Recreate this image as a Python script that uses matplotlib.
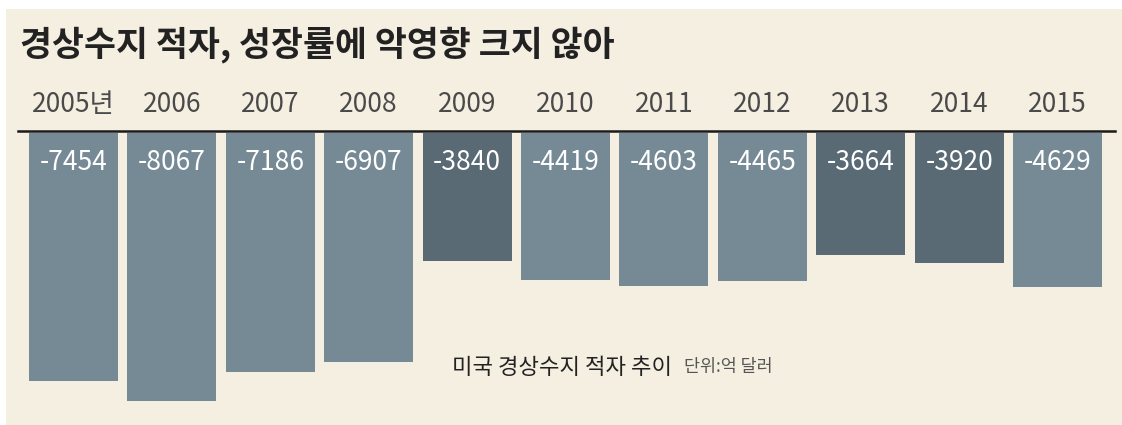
import matplotlib
matplotlib.use("Agg")
import matplotlib.pyplot as plt
from matplotlib.patches import Rectangle
from matplotlib.lines import Line2D

plt.rcParams['font.family'] = ['Noto Sans CJK KR', 'DejaVu Sans']

years = ["2005년", "2006", "2007", "2008", "2009", "2010", "2011", "2012", "2013", "2014", "2015"]
values = [-7454, -8067, -7186, -6907, -3840, -4419, -4603, -4465, -3664, -3920, -4629]
dark_years = ["2009", "2013", "2014"]

title = "경상수지 적자, 성장률에 악영향 크지 않아"
subtitle = "미국 경상수지 적자 추이"
unit = "단위:억 달러"

W, H = 1122, 425
fig = plt.figure(figsize=(W / 100, H / 100), dpi=100, facecolor="white")
bg = "#f5efe1"
fig.patches.append(Rectangle((6 / W, 0), 1 - 6 / W, 1 - 9 / H, transform=fig.transFigure,
                             facecolor=bg, edgecolor="none", zorder=-10))

ax_l, ax_r = 18, 1115
ax_top, ax_bot = 133, 417
ax = fig.add_axes([ax_l / W, 1 - ax_bot / H, (ax_r - ax_l) / W, (ax_bot - ax_top) / H])
ax.set_zorder(1)
ax.set_facecolor("none")
ax.set_xlim(-0.564, 10.584)
ax.set_ylim(-8549, 0)
for s in ax.spines.values():
    s.set_visible(False)
ax.set_xticks([])
ax.set_yticks([])

light = "#768a96"
dark = "#596a75"
colors = [dark if y in dark_years else light for y in years]
xs = list(range(len(years)))
ax.bar(xs, values, width=0.905, color=colors, edgecolor="none", zorder=2, clip_on=False)

# baseline rule just above the bars
fig.lines.append(Line2D([18 / W, 1115 / W], [1 - 131 / H, 1 - 131 / H], transform=fig.transFigure,
                        color="#1a1a1a", lw=1.8, zorder=5))

for x, y, v in zip(xs, years, values):
    ax.annotate(f"{v}", xy=(x, 0), xytext=(0, -29), textcoords="offset pixels",
                ha="center", va="center", color="white", fontsize=19,
                fontweight="medium", zorder=4)
    ax.annotate(y, xy=(x, 0), xytext=(0, 28), textcoords="offset pixels",
                ha="center", va="center", color="#4a4a4a", fontsize=19, annotation_clip=False)

fig.text(20 / W, 1 - 45 / H, title, ha="left", va="center", fontsize=25,
         fontweight="bold", color="#222222")
fig.text(452 / W, 1 - 368 / H, subtitle, ha="left", va="center", fontsize=16,
         fontweight="medium", color="#222222")
fig.text(684 / W, 1 - 367 / H, unit, ha="left", va="center", fontsize=12.5,
         color="#555555")

fig.savefig("out.png", dpi=100, facecolor="white")
